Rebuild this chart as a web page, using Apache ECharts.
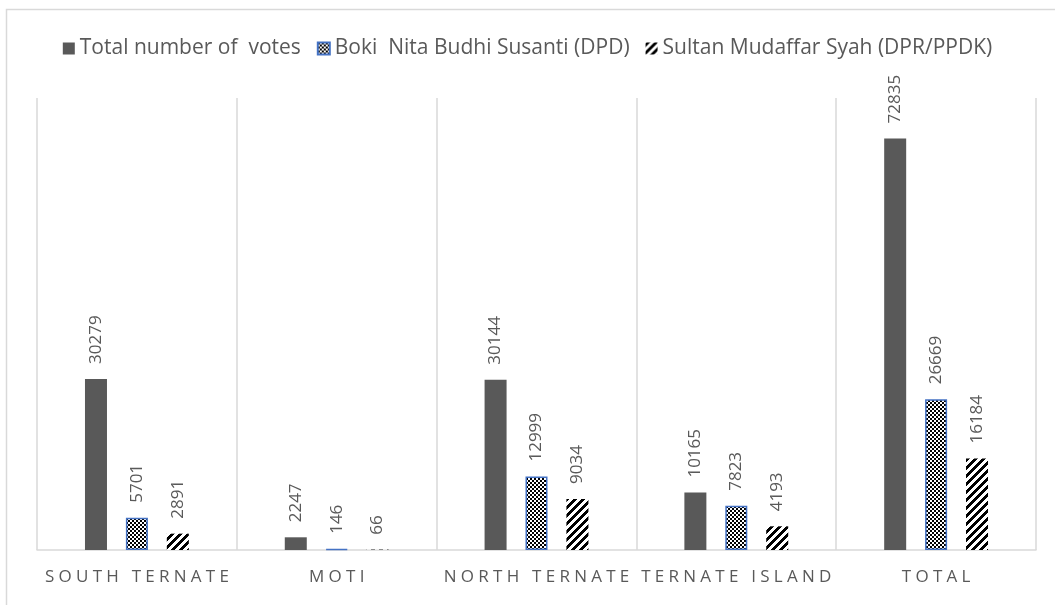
<!DOCTYPE html>
<html>
<head>
<meta charset="utf-8">
<script src="https://cdn.jsdelivr.net/npm/echarts@6/dist/echarts.min.js"></script>
<style>
  html, body { margin: 0; padding: 0; background: #fff; }
  #chart { width: 1055px; height: 605px; }
</style>
</head>
<body>
<div id="chart"></div>
<script>
const categories = ['SOUTH TERNATE', 'MOTI', 'NORTH TERNATE', 'TERNATE ISLAND', 'TOTAL'];
const seriesNames = ['Total number of  votes', 'Boki  Nita Budhi Susanti (DPD)', 'Sultan Mudaffar Syah (DPR/PPDK)'];
const totalVotes = [30279, 2247, 30144, 10165, 72835];
const bokiVotes = [5701, 146, 12999, 7823, 26669];
const sultanVotes = [2891, 66, 9034, 4193, 16184];

const textColor = '#595959';
const lineColor = '#d9d9d9';
const font = '"Open Sans", "Liberation Sans", sans-serif';

// fine checker fill for the DPD series
function checkerPattern() {
    const c = document.createElement('canvas');
    c.width = 4; c.height = 4;
    const ctx = c.getContext('2d');
    ctx.fillStyle = '#fff';
    ctx.fillRect(0, 0, 4, 4);
    ctx.fillStyle = '#000';
    ctx.fillRect(0, 0, 2, 2);
    ctx.fillRect(2, 2, 2, 2);
    return c;
}

// wide "/" stripes for the DPR series
function stripePattern() {
    const n = 8;
    const c = document.createElement('canvas');
    c.width = n; c.height = n;
    const ctx = c.getContext('2d');
    const img = ctx.createImageData(n, n);
    for (let y = 0; y < n; y++) {
        for (let x = 0; x < n; x++) {
            const v = ((x + y) % n) < 4 ? 0 : 255;
            const i = (y * n + x) * 4;
            img.data[i] = v; img.data[i + 1] = v; img.data[i + 2] = v; img.data[i + 3] = 255;
        }
    }
    ctx.putImageData(img, 0, 0);
    return c;
}

// letter-spaced axis labels
function spaced(s) {
    return s.split('').join('\u2005');
}

const labelOpt = {
    show: true,
    position: 'top',
    rotate: 90,
    align: 'left',
    verticalAlign: 'middle',
    distance: 15,
    color: textColor,
    fontSize: 17,
    fontFamily: font
};

const chart = echarts.init(document.getElementById('chart'), null, { renderer: 'canvas' });

chart.setOption({
    animation: false,
    backgroundColor: '#fff',
    graphic: [{
        type: 'rect',
        left: 4, top: 7,
        shape: { width: 1200, height: 800 },
        style: { fill: 'none', stroke: lineColor, lineWidth: 1.5 },
        silent: true
    }],
    legend: {
        top: 33,
        left: 'center',
        itemWidth: 12,
        itemHeight: 12,
        itemGap: 16,
        icon: 'rect',
        textStyle: { color: textColor, fontSize: 21, fontFamily: font },
        data: seriesNames
    },
    grid: { left: 37, right: 19, top: 98, bottom: 55, containLabel: false },
    xAxis: {
        type: 'category',
        data: categories,
        axisLine: { show: true, lineStyle: { color: lineColor, width: 1.5 } },
        axisTick: { show: false },
        splitLine: { show: true, lineStyle: { color: lineColor, width: 1.5 } },
        axisLabel: {
            interval: 0,
            margin: 19,
            color: textColor,
            fontSize: 17,
            fontFamily: font,
            formatter: spaced
        }
    },
    yAxis: {
        type: 'value',
        min: 0,
        max: 80000,
        show: false,
        splitLine: { show: false }
    },
    series: [
        {
            name: seriesNames[0],
            type: 'bar',
            data: totalVotes,
            barWidth: 22,
            barGap: '86%',
            itemStyle: { color: '#595959' },
            label: labelOpt
        },
        {
            name: seriesNames[1],
            type: 'bar',
            data: bokiVotes,
            barWidth: 22,
            barGap: '86%',
            itemStyle: {
                color: { image: checkerPattern(), repeat: 'repeat' },
                borderColor: '#4472c4',
                borderWidth: 1.5
            },
            label: labelOpt
        },
        {
            name: seriesNames[2],
            type: 'bar',
            data: sultanVotes,
            barWidth: 22,
            barGap: '86%',
            itemStyle: { color: { image: stripePattern(), repeat: 'repeat' } },
            label: labelOpt
        }
    ]
});
</script>
</body>
</html>
